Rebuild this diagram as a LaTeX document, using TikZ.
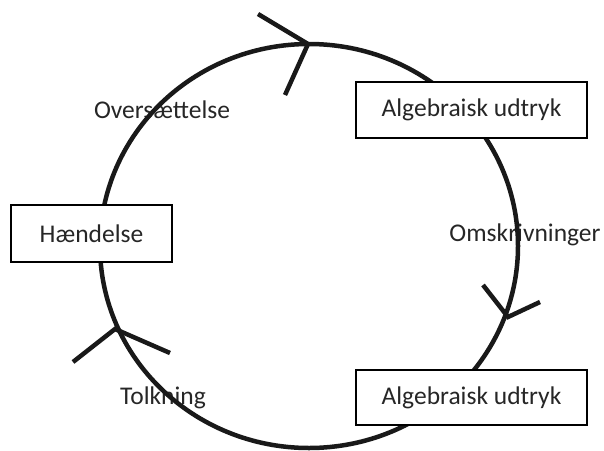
\documentclass[tikz,border=0pt]{standalone}
\usepackage{fontspec}
\setmainfont{Carlito}
\begin{document}
\begin{tikzpicture}[x=1pt,y=-1pt,
  lbl/.style={font=\fontsize{25.5}{30}\selectfont, inner sep=0pt, text=black!85},
  box/.style={draw, line width=1.8pt, fill=white, minimum width=231pt, minimum height=56pt, font=\fontsize{25.5}{30}\selectfont, text=black!85, inner sep=0pt},
  thick line/.style={line width=4.5pt, color=black!90}]
\useasboundingbox (0,0) rectangle (604,450);
% labels under the circle
\node[lbl] (ov) at (162,110) {Oversættelse};
\node[lbl] (om) at (525,235) {Omskrivninger};
\node[lbl] (to) at (163,398) {Tolkning};
% circle
\draw[thick line] (309,246) ellipse [x radius=209, y radius=202];
% arrow heads
\coordinate (t1) at (308,44);
\coordinate (t1a) at (258,14);
\coordinate (t1b) at (285,95);
\draw[thick line] (t1a) -- (t1) -- (t1b);
\coordinate (t2) at (508,317);
\coordinate (t2a) at (483,285);
\coordinate (t2b) at (540,302);
\draw[thick line] (t2a) -- (t2) -- (t2b);
\coordinate (t3) at (115,329);
\coordinate (t3a) at (73,362);
\coordinate (t3b) at (170,353);
\draw[thick line] (t3a) -- (t3) -- (t3b);
% boxes
\node[box, minimum width=161pt, minimum height=57pt] (h) at (91.5,233.5) {Hændelse};
\node[box] (a1) at (471.5,110) {Algebraisk udtryk};
\node[box, minimum height=55pt] (a2) at (471.5,397.5) {Algebraisk udtryk};
\end{tikzpicture}
\end{document}
